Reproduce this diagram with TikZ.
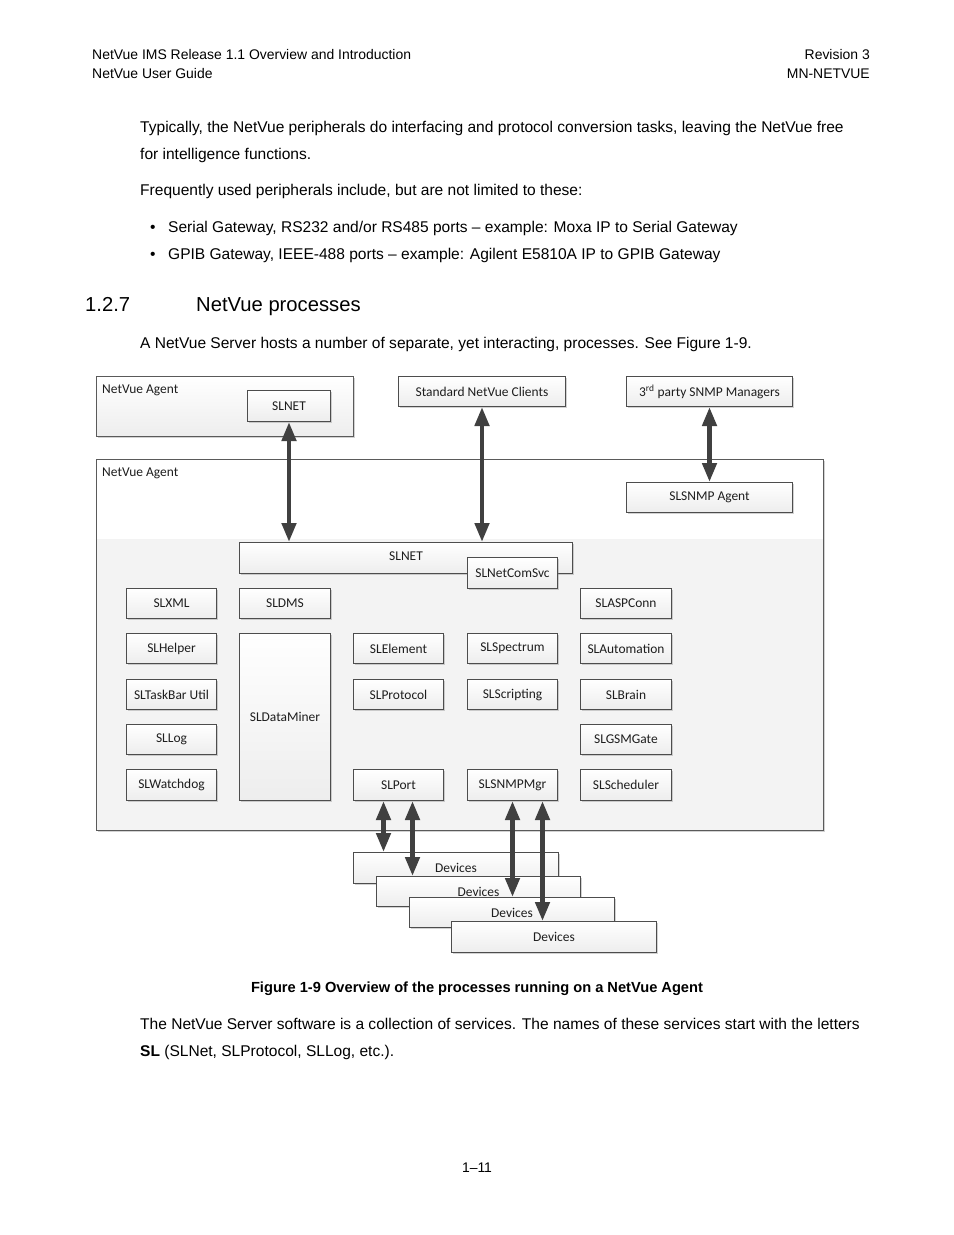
\documentclass[tikz,border=0pt]{standalone}
\usepackage{fontspec}
\setmainfont{Liberation Sans}
\newfontfamily\diagfont{Carlito}
\usetikzlibrary{arrows.meta,shadows}
\definecolor{arrc}{HTML}{404040}
\definecolor{boxline}{HTML}{4D4D4D}
\definecolor{frameline}{HTML}{5A5A5A}
\definecolor{txt}{HTML}{1E1E1E}
\definecolor{lowfill}{HTML}{F3F3F3}
\tikzset{
  pbox/.style={draw=boxline, line width=1bp, top color=white, bottom color=gray!14,
    drop shadow={shadow xshift=1.5bp, shadow yshift=-1.5bp, opacity=0.35, fill=gray},
    font=\diagfont\fontsize{13.5}{15}\selectfont, text=txt, inner sep=0pt, anchor=north west},
  cbox/.style={pbox, minimum width=90bp, minimum height=30bp},
  lbl/.style={font=\diagfont\fontsize{13.5}{15}\selectfont, text=txt, inner sep=0pt, anchor=west},
  dbl/.style={arrc, line width=4.5bp, {Triangle[width=14bp,length=19bp]}-{Triangle[width=14bp,length=19bp]}},
  body/.style={anchor=base west, inner sep=0pt, font=\fontsize{15.6}{18}\selectfont},
  hdr/.style={anchor=base west, inner sep=0pt, font=\fontsize{14}{16}\selectfont},
  hd/.style={anchor=base west, inner sep=0pt, font=\fontsize{20.3}{24}\selectfont},
}
\begin{document}
\begin{tikzpicture}[x=1bp,y=-1bp]
\useasboundingbox[fill=white] (0,0) rectangle (954,1235);

% page header
\node[hdr] (h1) at (92,59) {NetVue IMS Release 1.1 Overview and Introduction};
\node[hdr] (h2) at (92,78) {NetVue User Guide};
\node[hdr, anchor=base east] (h3) at (870,59) {Revision 3};
\node[hdr, anchor=base east] (h4) at (870,78) {MN-NETVUE};

% body text
\node[body] (t1) at (140,132) {Typically, the NetVue peripherals do interfacing and protocol conversion tasks, leaving the NetVue free};
\node[body] (t2) at (140,159) {for intelligence functions.};
\node[body] (t3) at (140,195) {Frequently used peripherals include, but are not limited to these:};
\node[body] (b1) at (150,232) {\textbullet};
\node[body] (t4) at (168,232) {Serial Gateway, RS232 and/or RS485 ports – example: Moxa IP to Serial Gateway};
\node[body] (b2) at (150,259) {\textbullet};
\node[body] (t5) at (168,259) {GPIB Gateway, IEEE-488 ports – example: Agilent E5810A IP to GPIB Gateway};
\node[hd] (s1) at (85,311) {1.2.7};
\node[hd] (s2) at (196,311) {NetVue processes};
\node[body] (t6) at (140,348) {A NetVue Server hosts a number of separate, yet interacting, processes. See Figure 1-9.};

% diagram: upper agent
\node[draw=frameline, line width=1bp, anchor=north west, minimum width=257bp, minimum height=60bp,
  top color=white, bottom color=gray!14, inner sep=0pt,
  drop shadow={shadow xshift=1.5bp, shadow yshift=-1.5bp, opacity=0.35, fill=gray}] (agent1) at (96,376) {};
\node[lbl] (agent1l) at ([xshift=6bp,yshift=-14bp]agent1.north west) {NetVue Agent};
\node[pbox, minimum width=83bp, minimum height=31bp] (slnet1) at (247,390) {SLNET};
\node[pbox, minimum width=167bp, minimum height=30bp] (clients) at (398,376) {Standard NetVue Clients};
\node[pbox, minimum width=166bp, minimum height=30bp] (snmpm) at (626,376) {3\textsuperscript{rd} party SNMP Managers};

% big agent
\node[fill=white, anchor=north west, minimum width=727bp, minimum height=371bp, inner sep=0pt,
  drop shadow={shadow xshift=1.5bp, shadow yshift=-1.5bp, opacity=0.35, fill=gray}] (agent2) at (96,459) {};
\coordinate (split) at (0,539);
\fill[lowfill] (agent2.south west) rectangle (agent2.east |- split);
\draw[frameline, line width=1bp] (agent2.south west) rectangle (agent2.north east);
\node[lbl] (agent2l) at ([xshift=6bp,yshift=-14bp]agent2.north west) {NetVue Agent};
\node[pbox, minimum width=166bp, minimum height=30bp] (snmpa) at (626,482) {SLSNMP Agent};

\node[pbox, minimum width=333bp, minimum height=31bp, text depth=4bp] (slnetbig) at (239,542) {SLNET};
\node[pbox, minimum width=90bp, minimum height=31bp] (slnetcom) at (467,557) {SLNetComSvc};

% column 1
\node[cbox] (slxml) at (126,588) {SLXML};
\node[cbox] (slhelper) at (126,633) {SLHelper};
\node[cbox] (sltask) at (126,679) {SLTaskBar Util};
\node[cbox] (sllog) at (126,724) {SLLog};
\node[cbox, minimum height=31bp] (slwatch) at (126,769) {SLWatchdog};
% column 2
\node[cbox, minimum width=91bp] (sldms) at (239,588) {SLDMS};
\node[pbox, minimum width=91bp, minimum height=167bp] (sldm) at (239,633) {SLDataMiner};
% column 3
\node[cbox] (slelem) at (353,633) {SLElement};
\node[cbox] (slproto) at (353,679) {SLProtocol};
\node[cbox, minimum height=31bp] (slport) at (353,769) {SLPort};
% column 4
\node[cbox] (slspec) at (467,633) {SLSpectrum};
\node[cbox] (slscript) at (467,679) {SLScripting};
\node[cbox, minimum height=31bp] (slsnmpmgr) at (467,769) {SLSNMPMgr};
% column 5
\node[cbox, minimum width=91bp] (slasp) at (580,588) {SLASPConn};
\node[cbox, minimum width=91bp] (slauto) at (580,633) {SLAutomation};
\node[cbox, minimum width=91bp] (slbrain) at (580,679) {SLBrain};
\node[cbox, minimum width=91bp] (slgsm) at (580,724) {SLGSMGate};
\node[cbox, minimum width=91bp, minimum height=31bp] (slsched) at (580,769) {SLScheduler};

% devices
\node[pbox, minimum width=205bp, minimum height=31bp] (d1) at (353,852) {Devices};
\node[pbox, minimum width=204bp, minimum height=30bp] (d2) at (376,876) {Devices};
\node[pbox, minimum width=205bp, minimum height=30bp] (d3) at (409,897) {Devices};
\node[pbox, minimum width=205bp, minimum height=31bp] (d4) at (451,921) {Devices};

% arrows
\draw[dbl] (slnet1.south) -- (slnet1.south |- slnetbig.north);
\draw[dbl] (clients.south) -- (clients.south |- slnetbig.north);
\draw[dbl] (snmpm.south) -- (snmpa.north);
\draw[dbl] ([xshift=-15bp]slport.south) -- ([xshift=-15bp]slport.south |- d1.north);
\draw[dbl] ([xshift=14bp]slport.south) -- ([xshift=14bp]slport.south |- d2.north);
\draw[dbl] (slsnmpmgr.south) -- (slsnmpmgr.south |- d3.north);
\draw[dbl] ([xshift=30bp]slsnmpmgr.south) -- ([xshift=30bp]slsnmpmgr.south |- d4.north);

% caption and text below
\node[body, anchor=base, font=\fontsize{14.7}{18}\selectfont\bfseries] (cap) at (477,992) {Figure 1-9 Overview of the processes running on a NetVue Agent};
\node[body] (t7) at (140,1029) {The NetVue Server software is a collection of services. The names of these services start with the letters};
\node[body] (t8) at (140,1056) {\textbf{SL} (SLNet, SLProtocol, SLLog, etc.).};
\node[hdr, anchor=base] (pg) at (477,1172) {1–11};
\end{tikzpicture}
\end{document}
